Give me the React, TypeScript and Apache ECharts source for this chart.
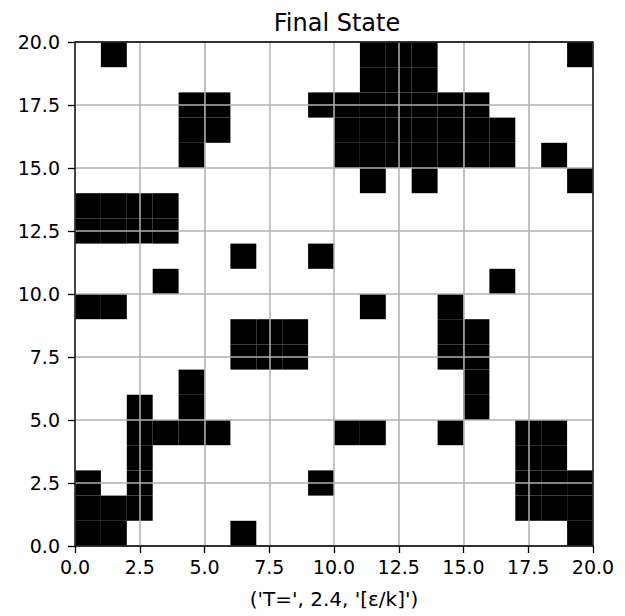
import React, { useEffect, useRef } from "react";
import * as echarts from "echarts";

// Lattice size (spins per side) and axis ticks
const latticeSize = 20;
const tickValues = [0, 2.5, 5, 7.5, 10, 12.5, 15, 17.5, 20];

// Columns holding a down spin (drawn black), listed per lattice row from the top row down
const downSpinColumns: number[][] = [
  [1, 11, 12, 13, 19],
  [11, 12, 13],
  [4, 5, 9, 10, 11, 12, 13, 14, 15],
  [4, 5, 10, 11, 12, 13, 14, 15, 16],
  [4, 10, 11, 12, 13, 14, 15, 16, 18],
  [11, 13, 19],
  [0, 1, 2, 3],
  [0, 1, 2, 3],
  [6, 9],
  [3, 16],
  [0, 1, 11, 14],
  [6, 7, 8, 14, 15],
  [6, 7, 8, 14, 15],
  [4, 15],
  [2, 4, 15],
  [2, 3, 4, 5, 10, 11, 14, 17, 18],
  [2, 17, 18],
  [0, 2, 9, 17, 18, 19],
  [0, 1, 2, 17, 18, 19],
  [0, 1, 6, 19],
];

const titleText = "Final State";
const xLabelText = "('T=', 2.4, '[ε/k]')";

export default function App() {
  const ref = useRef<HTMLDivElement>(null);

  useEffect(() => {
    if (!ref.current) return;
    const chart = echarts.init(ref.current, null, { renderer: "svg" });

    // each down spin becomes a unit cell [x0, y0] in lattice coordinates
    const cells: number[][] = [];
    downSpinColumns.forEach((cols, row) => {
      const y0 = latticeSize - 1 - row;
      cols.forEach((c) => cells.push([c, y0]));
    });

    const font = "DejaVu Sans";
    const axisCommon = {
      type: "value" as const,
      min: 0,
      max: latticeSize,
      interval: 2.5,
      z: 5,
      axisLine: { show: false },
      axisTick: { show: true, length: 7, lineStyle: { color: "#000", width: 1.3 } },
      splitLine: { show: true, lineStyle: { color: "#b0b0b0", width: 1.5 } },
      axisLabel: {
        color: "#000",
        fontFamily: font,
        fontSize: 19,
        formatter: (v: number) => (tickValues.includes(v) ? v.toFixed(1) : ""),
      },
    };

    chart.setOption({
      animation: false,
      backgroundColor: "#fff",
      title: {
        text: titleText,
        left: 332,
        top: 6,
        textAlign: "center",
        textStyle: { fontFamily: font, fontSize: 24, fontWeight: "normal", color: "#000" },
      },
      grid: {
        left: 75,
        top: 42,
        width: 518,
        height: 504,
        outerBoundsMode: "none",
        containLabel: false,
        show: true,
        borderColor: "#000",
        borderWidth: 1.3,
        backgroundColor: "transparent",
        z: 6,
      },
      xAxis: {
        ...axisCommon,
        axisLabel: { ...axisCommon.axisLabel, margin: 11 },
        name: xLabelText,
        nameLocation: "middle",
        nameGap: 43,
        nameTextStyle: { fontFamily: font, fontSize: 20, color: "#000" },
      },
      yAxis: {
        ...axisCommon,
        axisLabel: { ...axisCommon.axisLabel, margin: 15 },
      },
      series: [
        {
          type: "custom",
          data: cells,
          z: 1,
          renderItem: (params: any, api: any) => {
            const x = api.value(0);
            const y = api.value(1);
            const p0 = api.coord([x, y + 1]);
            const p1 = api.coord([x + 1, y]);
            return {
              type: "rect",
              shape: { x: p0[0], y: p0[1], width: p1[0] - p0[0], height: p1[1] - p0[1] },
              style: { fill: "#000" },
            };
          },
        },
      ],
    });

    return () => chart.dispose();
  }, []);

  return (
    <div
      ref={ref}
      style={{ position: "fixed", left: 0, top: 0, width: 625, height: 616 }}
    />
  );
}
